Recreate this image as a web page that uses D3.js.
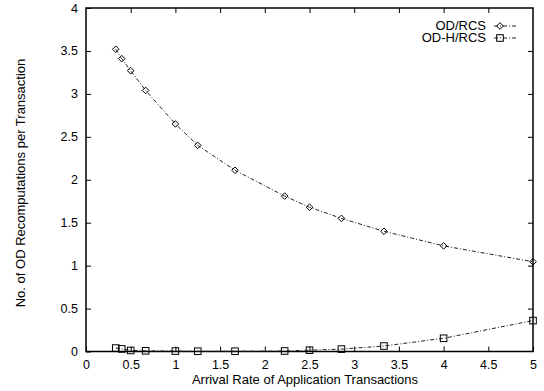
<!DOCTYPE html>
<html>
<head>
<meta charset="utf-8">
<script src="https://cdn.jsdelivr.net/npm/d3@7"></script>
<style>
  html, body { margin: 0; padding: 0; background: #fff; }
  svg { display: block; font-family: "Liberation Sans", Arial, Helvetica, sans-serif; }
</style>
</head>
<body>
<svg id="chart" width="544" height="391"></svg>
<script>
// Arrival rates of application transactions
const arrivalRates = [0.333, 0.4, 0.5, 0.667, 1.0, 1.25, 1.667, 2.222, 2.5, 2.857, 3.333, 4.0, 5.0];
// OD recomputations per transaction for each scheme
const odRcs  = [3.52, 3.41, 3.27, 3.04, 2.65, 2.40, 2.11, 1.81, 1.68, 1.55, 1.40, 1.23, 1.045];
const odhRcs = [0.04, 0.03, 0.012, 0.008, 0.005, 0.003, 0.003, 0.006, 0.015, 0.028, 0.064, 0.154, 0.36];
const seriesNames = ["OD/RCS", "OD-H/RCS"];
const xTicks = [0, 0.5, 1, 1.5, 2, 2.5, 3, 3.5, 4, 4.5, 5];
const yTicks = [0, 0.5, 1, 1.5, 2, 2.5, 3, 3.5, 4];
const xTitle = "Arrival Rate of Application Transactions";
const yTitle = "No. of OD Recomputations per Transaction";

const svg = d3.select("#chart");
const plotL = 86, plotR = 533, plotT = 8, plotB = 351.5;

const x = d3.scaleLinear().domain([0, 5]).range([plotL, plotR]);
const y = d3.scaleLinear().domain([0, 4]).range([plotB, plotT]);

const tickLen = 5;
const fmt = d => String(d);

// Axes with inward ticks on all four sides
svg.append("g").attr("transform", `translate(0,${plotB})`)
  .call(d3.axisBottom(x).tickValues(xTicks).tickFormat(fmt).tickSizeInner(-tickLen).tickSizeOuter(0).tickPadding(9))
  .call(g => g.select(".domain").remove());
svg.append("g").attr("transform", `translate(0,${plotT})`)
  .call(d3.axisTop(x).tickValues(xTicks.slice(1, -1)).tickFormat("").tickSizeInner(-tickLen).tickSizeOuter(0))
  .call(g => g.select(".domain").remove());
svg.append("g").attr("transform", `translate(${plotL},0)`)
  .call(d3.axisLeft(y).tickValues(yTicks).tickFormat(fmt).tickSizeInner(-tickLen).tickSizeOuter(0).tickPadding(8))
  .call(g => g.select(".domain").remove());
svg.append("g").attr("transform", `translate(${plotR},0)`)
  .call(d3.axisRight(y).tickValues(yTicks.slice(1, -1)).tickFormat("").tickSizeInner(-tickLen).tickSizeOuter(0))
  .call(g => g.select(".domain").remove());

svg.selectAll(".tick line").attr("stroke", "#000").attr("stroke-width", 1);
svg.selectAll(".tick text").attr("font-size", 12.5).attr("fill", "#000")
  .attr("font-family", "Liberation Sans, Arial, sans-serif");

// Plot border
svg.append("rect")
  .attr("x", plotL).attr("y", plotT)
  .attr("width", plotR - plotL).attr("height", plotB - plotT)
  .attr("fill", "none").attr("stroke", "#000").attr("stroke-width", 1.5);

// Axis titles
svg.append("text")
  .attr("x", 305).attr("y", 384)
  .attr("text-anchor", "middle").attr("font-size", 13).attr("fill", "#000")
  .text(xTitle);
svg.append("text")
  .attr("transform", "translate(24.5,183) rotate(-90)")
  .attr("text-anchor", "middle").attr("font-size", 13).attr("fill", "#000")
  .text(yTitle);

const line = d3.line().x(d => x(d[0])).y(d => y(d[1]));
const dash = "4,2,1,2";

function diamond(g, cx, cy) {
  const r = 3.3;
  g.append("path")
    .attr("d", `M${cx},${cy - r}L${cx + r},${cy}L${cx},${cy + r}L${cx - r},${cy}Z`)
    .attr("fill", "none").attr("stroke", "#000").attr("stroke-width", 1);
}
function square(g, cx, cy) {
  const r = 3.3;
  g.append("rect")
    .attr("x", cx - r).attr("y", cy - r).attr("width", 2 * r).attr("height", 2 * r)
    .attr("fill", "none").attr("stroke", "#000").attr("stroke-width", 1);
}

const series = [
  { name: seriesNames[0], values: odRcs, marker: diamond },
  { name: seriesNames[1], values: odhRcs, marker: square }
];

series.forEach((s, i) => {
  const pts = arrivalRates.map((r, j) => [r, s.values[j]]);
  const g = svg.append("g");
  g.append("path").datum(pts).attr("d", line)
    .attr("fill", "none").attr("stroke", "#222").attr("stroke-width", 1)
    .attr("stroke-dasharray", dash);
  pts.forEach(p => s.marker(g, x(p[0]), y(p[1])));

  // Legend entry
  const ly = 26 + i * 12;
  svg.append("text")
    .attr("x", 486).attr("y", ly + 4)
    .attr("text-anchor", "end").attr("font-size", 13).attr("fill", "#000")
    .text(s.name);
  svg.append("line")
    .attr("x1", 494).attr("x2", 518).attr("y1", ly).attr("y2", ly)
    .attr("stroke", "#222").attr("stroke-width", 1).attr("stroke-dasharray", dash);
  s.marker(svg, 500, ly);
});
</script>
</body>
</html>
